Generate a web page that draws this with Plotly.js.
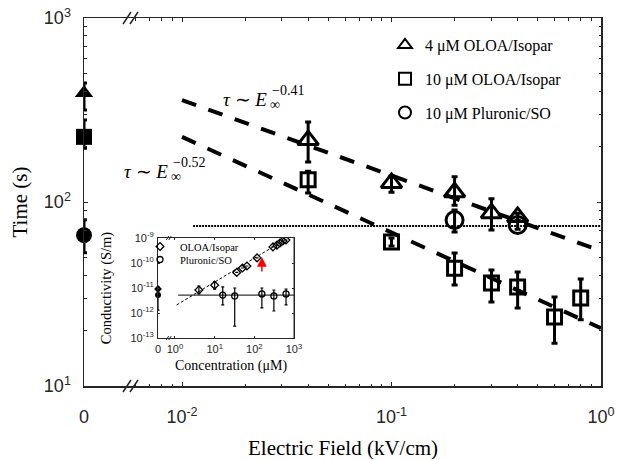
<!DOCTYPE html>
<html><head><meta charset="utf-8">
<script src="https://cdn.plot.ly/plotly-3.0.1.min.js"></script>
<style>html,body{margin:0;padding:0;background:#fff}#chart{width:620px;height:460px}</style>
</head><body><div id="chart"></div>
<script>
// ---------------- main chart data ----------------
const zeroX = [0];
const field4 = [0.04, 0.1, 0.2, 0.3, 0.4];
const time4 = [217, 127, 113, 87, 83];
const time4Up = [55, 11, 24, 17, 4];
const time4Dn = [52, 14, 17, 16.5, 4];
const time4Zero = [391], time4ZeroUp = [53], time4ZeroDn = [75];

const field10 = [0.04, 0.1, 0.2, 0.3, 0.4, 0.6, 0.8];
const time10 = [132, 60.7, 43.7, 36.3, 34.5, 23.7, 30.1];
const time10Up = [15, 3, 9.2, 6.4, 7.2, 6.8, 8.1];
const time10Dn = [20, 3, 8.3, 7.7, 8.0, 6.6, 7.2];
const time10Zero = [226], time10ZeroUp = [53], time10ZeroDn = [30];

const fieldPl = [0.2, 0.4];
const timePl = [79.8, 75];
const timePlUp = [10.7, 4];
const timePlDn = [11.1, 4];
const timePlZero = [66], timePlZeroUp = [14], timePlZeroDn = [13];

const fitField = [0.01, 1];
const fitTime4 = [358, 54.2];   // tau ~ E^-0.41
const fitTime10 = [226, 20.6];  // tau ~ E^-0.52
const refField = [0.0113, 1];
const refTime = [74, 74];

const zeroTickVals = [0], zeroTickText = ['0'];
const fieldTickVals = [0.01, 0.1, 1];
const fieldTickText = ['10<sup>-2</sup>', '10<sup>-1</sup>', '10<sup>0</sup>'];
const timeTickVals = [10, 100, 1000];
const timeTickText = ['10<sup>1</sup>', '10<sup>2</sup>', '10<sup>3</sup>'];
const legendNames = ['4 \u03bcM OLOA/Isopar', '10 \u03bcM OLOA/Isopar', '10 \u03bcM Pluronic/SO'];

// ---------------- inset data ----------------
const concOL = [4, 10, 36, 50, 65, 117, 295, 372, 442, 525, 626];
const condOL = [8.3e-12, 1.3e-11, 4.2e-11, 6.3e-11, 7.6e-11, 1.6e-10, 4.4e-10, 5.2e-10, 6.3e-10, 7.6e-10, 8.3e-10];
const condOLUp = [3.7e-12, 5e-12, 0, 0, 0, 0, 0, 0, 0, 0, 0];
const condOLDn = [2.5e-12, 4e-12, 0, 0, 0, 0, 0, 0, 0, 0, 0];
const condOLZero = [9.1e-12];
const concPl = [16, 32, 155, 311, 630];
const condPl = [5.2e-12, 4.8e-12, 5.8e-12, 4.8e-12, 5.8e-12];
const condPlUp = [5.8e-12, 5.2e-12, 4.2e-12, 3.5e-12, 3.3e-12];
const condPlDn = [3.1e-12, 4.5e-12, 4.2e-12, 3.6e-12, 3.7e-12];
const condPlZero = [5.2e-12], condPlZeroUp = [5.8e-12], condPlZeroDn = [3.9e-12];
const fitConc = [1.1, 700], fitCond = [2.1e-12, 1e-9];
const flatConc = [1.2, 1000], flatCond = [5.2e-12, 5.2e-12];
const markConc = 155, markCond = 1.74e-10;
const concTickVals = [1, 10, 100, 1000];
const concTickText = ['10<sup>0</sup>', '10<sup>1</sup>', '10<sup>2</sup>', '10<sup>3</sup>'];
const condTickVals = [1e-13, 1e-12, 1e-11, 1e-10, 1e-9];
const condTickText = ['10<sup>-13</sup>', '10<sup>-12</sup>', '10<sup>-11</sup>', '10<sup>-10</sup>', '10<sup>-9</sup>'];
const insetNames = ['OLOA/Isopar', 'Pluronic/SO'];

// ---------------- geometry helpers (pixels -> paper) ----------------
const L = 84, R = 601, T = 18, B = 386;
const px = x => (x - L) / (R - L);
const py = y => (B - y) / (B - T);
function minorLog(lo, hi) { const v = []; for (let k = lo; k < hi; k++) for (let d = 2; d <= 9; d++) v.push(d * Math.pow(10, k)); return v; }

const AX = '#262626';
const SANS = 'Liberation Sans, Arial, sans-serif';
const SERIF = 'Liberation Serif, Times New Roman, serif';

const eb = (up, dn, th, w) => ({type: 'data', symmetric: false, array: up, arrayminus: dn, thickness: th, width: w, color: 'black'});

const traces = [
  // fit lines and reference line
  {x: fitField, y: fitTime4, xaxis: 'x2', yaxis: 'y', mode: 'lines', line: {color: 'black', width: 4, dash: '15px,13px'}, showlegend: false, hoverinfo: 'skip'},
  {x: fitField, y: fitTime10, xaxis: 'x2', yaxis: 'y', mode: 'lines', line: {color: 'black', width: 4, dash: '15px,13px'}, showlegend: false, hoverinfo: 'skip'},
  {x: refField, y: refTime, xaxis: 'x2', yaxis: 'y', mode: 'lines', line: {color: 'black', width: 2, dash: '2px,1px'}, showlegend: false, hoverinfo: 'skip'},
  // main series
  {x: field4, y: time4, name: legendNames[0], legendgroup: 'a', xaxis: 'x2', yaxis: 'y', mode: 'markers',
   marker: {symbol: 'triangle-up-open', size: 18, color: 'black', line: {color: 'black', width: 3}}, error_y: eb(time4Up, time4Dn, 3, 3), cliponaxis: false},
  {x: field10, y: time10, name: legendNames[1], legendgroup: 'b', xaxis: 'x2', yaxis: 'y', mode: 'markers',
   marker: {symbol: 'square-open', size: 14, color: 'black', line: {color: 'black', width: 3}}, error_y: eb(time10Up, time10Dn, 3, 3), cliponaxis: false},
  {x: fieldPl, y: timePl, name: legendNames[2], legendgroup: 'c', xaxis: 'x2', yaxis: 'y', mode: 'markers',
   marker: {symbol: 'circle-open', size: 17, color: 'black', line: {color: 'black', width: 3}}, error_y: eb(timePlUp, timePlDn, 3, 3), cliponaxis: false},
  // zero-field points
  {x: zeroX, y: time4Zero, xaxis: 'x', yaxis: 'y', mode: 'markers', showlegend: false, cliponaxis: false,
   marker: {symbol: 'triangle-up', size: 16, color: 'black'}, error_y: eb(time4ZeroUp, time4ZeroDn, 3, 3)},
  {x: zeroX, y: time10Zero, xaxis: 'x', yaxis: 'y', mode: 'markers', showlegend: false, cliponaxis: false,
   marker: {symbol: 'square', size: 16, color: 'black'}, error_y: eb(time10ZeroUp, time10ZeroDn, 3, 3)},
  {x: zeroX, y: timePlZero, xaxis: 'x', yaxis: 'y', mode: 'markers', showlegend: false, cliponaxis: false,
   marker: {symbol: 'circle', size: 16, color: 'black'}, error_y: eb(timePlZeroUp, timePlZeroDn, 3, 3)},
  // overlay axis holder for right frame
  {x: [], y: [], xaxis: 'x2', yaxis: 'y3', showlegend: false, hoverinfo: 'skip'},
  // inset
  {x: fitConc, y: fitCond, xaxis: 'x4', yaxis: 'y2', mode: 'lines', line: {color: 'black', width: 1, dash: '3px,2px'}, showlegend: false, hoverinfo: 'skip'},
  {x: flatConc, y: flatCond, xaxis: 'x4', yaxis: 'y2', mode: 'lines', line: {color: 'black', width: 1}, showlegend: false, hoverinfo: 'skip'},
  {x: concOL, y: condOL, name: insetNames[0], legend: 'legend2', xaxis: 'x4', yaxis: 'y2', mode: 'markers',
   marker: {symbol: 'diamond-open', size: 6, color: 'black', line: {color: 'black', width: 1.3}}, error_y: eb(condOLUp, condOLDn, 1.2, 1.5)},
  {x: concPl, y: condPl, name: insetNames[1], legend: 'legend3', xaxis: 'x4', yaxis: 'y2', mode: 'markers',
   marker: {symbol: 'circle-open', size: 6, color: 'black', line: {color: 'black', width: 1.3}}, error_y: eb(condPlUp, condPlDn, 1.2, 1.5)},
  {x: zeroX, y: condPlZero, xaxis: 'x3', yaxis: 'y2', mode: 'markers', showlegend: false, cliponaxis: false,
   marker: {symbol: 'circle', size: 6, color: 'black'}, error_y: eb(condPlZeroUp, condPlZeroDn, 1.2, 1.5)},
  {x: zeroX, y: condOLZero, xaxis: 'x3', yaxis: 'y2', mode: 'markers', showlegend: false, cliponaxis: false,
   marker: {symbol: 'diamond', size: 6, color: 'black'}},
  {x: [], y: [], xaxis: 'x4', yaxis: 'y4', showlegend: false, hoverinfo: 'skip'}
];

const mainTick = {ticks: 'inside', ticklen: 4, tickwidth: 1, tickcolor: AX, showline: true, linecolor: AX, linewidth: 1.5, showgrid: false, zeroline: false};
const insetTick = {ticks: 'inside', ticklen: 2, tickwidth: 1, tickcolor: AX, showline: true, linecolor: AX, linewidth: 1, showgrid: false, zeroline: false};

function slash(xc, yc, hw, hh, w) {
  return {type: 'line', xref: 'paper', yref: 'paper', x0: px(xc - hw), y0: py(yc + hh), x1: px(xc + hw), y1: py(yc - hh), line: {color: AX, width: w}};
}
const smallLegend = (x, y) => ({x: px(x), y: py(y), xanchor: 'left', yanchor: 'top', bgcolor: 'rgba(0,0,0,0)', borderwidth: 0,
    font: {family: SERIF, size: 10.5, color: 'black'}});

const layout = {
  width: 620, height: 460,
  margin: {l: L, r: 620 - R, t: T, b: 460 - B, pad: 0},
  paper_bgcolor: '#fff', plot_bgcolor: 'rgba(0,0,0,0)',
  font: {family: SANS, color: AX},
  xaxis: Object.assign({}, mainTick, {domain: [0, px(130)], range: [0, 1], anchor: 'y', tickmode: 'array', tickvals: zeroTickVals, ticktext: zeroTickText, mirror: 'ticks', tickfont: {size: 18, family: SANS, color: AX}, ticklabelstandoff: 14}),
  xaxis2: Object.assign({}, mainTick, {domain: [px(130), 1], type: 'log', range: [Math.log10(0.01) - 52 / 209.5, 0], anchor: 'y', tickmode: 'array', tickvals: fieldTickVals, ticktext: fieldTickText, mirror: 'ticks', tickfont: {size: 18, family: SANS, color: AX}, ticklabelstandoff: 14,
    minor: {tickmode: 'array', tickvals: minorLog(-3, 0), ticks: 'inside', ticklen: 2.5, tickcolor: AX, showgrid: false}}),
  yaxis: Object.assign({}, mainTick, {domain: [0, 1], type: 'log', range: [1, 3], anchor: 'x', tickmode: 'array', tickvals: timeTickVals, ticktext: timeTickText, tickfont: {size: 18, family: SANS, color: AX}, ticklabelstandoff: 8,
    minor: {tickmode: 'array', tickvals: minorLog(1, 3), ticks: 'inside', ticklen: 2.5, tickcolor: AX, showgrid: false},
    title: {text: 'Time (s)', font: {family: SERIF, size: 21, color: 'black'}, standoff: 10}}),
  yaxis3: Object.assign({}, mainTick, {overlaying: 'y', side: 'right', anchor: 'x2', type: 'log', range: [1, 3], tickmode: 'array', tickvals: timeTickVals, showticklabels: false,
    minor: {tickmode: 'array', tickvals: minorLog(1, 3), ticks: 'inside', ticklen: 2.5, tickcolor: AX, showgrid: false}}),
  // inset axes
  xaxis3: Object.assign({}, insetTick, {domain: [px(158), px(168)], range: [0, 1], anchor: 'y2', tickmode: 'array', tickvals: zeroTickVals, ticktext: zeroTickText, mirror: 'ticks', tickfont: {size: 11, family: SANS, color: AX}, ticklabelstandoff: 1}),
  xaxis4: Object.assign({}, insetTick, {domain: [px(168), px(294)], type: 'log', range: [-7 / 39.7, 3], anchor: 'y2', tickmode: 'array', tickvals: concTickVals, ticktext: concTickText, mirror: 'ticks', tickfont: {size: 11, family: SANS, color: AX}, ticklabelstandoff: 1,
    title: {text: 'Concentration (\u03bcM)', font: {family: SERIF, size: 14, color: 'black'}, standoff: 5}}),
  yaxis2: Object.assign({}, insetTick, {domain: [py(338), py(238)], type: 'log', range: [-13, -9], anchor: 'x3', tickmode: 'array', tickvals: condTickVals, ticktext: condTickText, tickfont: {size: 11, family: SANS, color: AX}, ticklabelstandoff: 1,
    title: {text: 'Conductivity (S/m)', font: {family: SERIF, size: 14.5, color: 'black'}, standoff: 15}}),
  yaxis4: Object.assign({}, insetTick, {overlaying: 'y2', side: 'right', anchor: 'x4', type: 'log', range: [-13, -9], tickmode: 'array', tickvals: condTickVals, showticklabels: false}),
  showlegend: true,
  legend: {x: px(385), y: py(28), xanchor: 'left', yanchor: 'top', bgcolor: 'rgba(0,0,0,0)', borderwidth: 0,
    font: {family: SERIF, size: 16, color: 'black'}, itemsizing: 'constant', traceorder: 'grouped', tracegroupgap: 10},
  legend2: smallLegend(140, 232),
  legend3: smallLegend(140, 245),
  shapes: [
    slash(127, B, 4, 6, 1.5), slash(134, B, 4, 6, 1.5),
    slash(127, T, 4, 6, 1.5), slash(134, T, 4, 6, 1.5),
    slash(167.5, 338, 1.2, 2, 1), slash(170, 338, 1.2, 2, 1),
    slash(167.5, 238, 1.2, 2, 1), slash(170, 238, 1.2, 2, 1),
    {type: 'line', xref: 'paper', yref: 'paper', x0: px(294), x1: px(294), y0: py(338), y1: py(238), line: {color: AX, width: 1}}
  ],
  annotations: [
    {xref: 'paper', yref: 'paper', x: 0.5, y: py(448), text: 'Electric Field (kV/cm)', showarrow: false, xanchor: 'center', yanchor: 'middle', font: {family: SERIF, size: 21, color: 'black'}},
    {xref: 'paper', yref: 'paper', x: px(221), y: py(99), text: '<i>\u03c4</i> \u223c <i>E</i>', showarrow: false, xanchor: 'left', yanchor: 'middle', font: {family: SERIF, size: 19, color: 'black'}},
    {xref: 'paper', yref: 'paper', x: px(270), y: py(90), text: '\u22120.41', showarrow: false, xanchor: 'left', yanchor: 'middle', font: {family: SERIF, size: 14, color: 'black'}},
    {xref: 'paper', yref: 'paper', x: px(268), y: py(104), text: '\u221e', showarrow: false, xanchor: 'left', yanchor: 'middle', font: {family: SERIF, size: 14, color: 'black'}},
    {xref: 'paper', yref: 'paper', x: px(122), y: py(171), text: '<i>\u03c4</i> \u223c <i>E</i>', showarrow: false, xanchor: 'left', yanchor: 'middle', font: {family: SERIF, size: 19, color: 'black'}},
    {xref: 'paper', yref: 'paper', x: px(171), y: py(162), text: '\u22120.52', showarrow: false, xanchor: 'left', yanchor: 'middle', font: {family: SERIF, size: 14, color: 'black'}},
    {xref: 'paper', yref: 'paper', x: px(169), y: py(176), text: '\u221e', showarrow: false, xanchor: 'left', yanchor: 'middle', font: {family: SERIF, size: 14, color: 'black'}},
    {xref: 'x4', yref: 'y2', x: Math.log10(markConc), y: Math.log10(markCond), text: '', showarrow: true, ax: 0, ay: 16, arrowhead: 2, arrowsize: 1.3, arrowwidth: 1.5, arrowcolor: 'red'}
  ]
};

Plotly.newPlot('chart', traces, layout, {displayModeBar: false, staticPlot: true});
</script>
</body></html>
